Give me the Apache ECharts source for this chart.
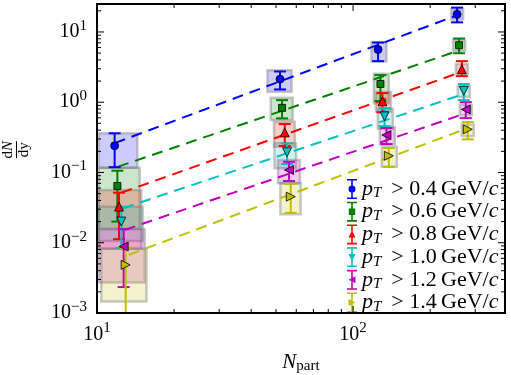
<!DOCTYPE html>
<html><head><meta charset="utf-8">
<script src="https://cdn.jsdelivr.net/npm/echarts@6/dist/echarts.min.js"></script>
<style>html,body{margin:0;padding:0;background:#fff}#c{width:511px;height:375px}</style>
</head><body><div id="c"></div>
<script>
// ---------- axis ranges & tick labels ----------
const xMin = 10, xMax = 392;
const yMin = 0.001, yMax = 25;
const xMajorTicks = [10, 100];
const yMajorTicks = [0.001, 0.01, 0.1, 1, 10];

// ---------- series ----------
const ptCuts = ['0.4', '0.6', '0.8', '1.0', '1.2', '1.4'];
const colors = ['#0000ff', '#008000', '#ff0000', '#00bfbf', '#bf00bf', '#bfbf00'];

// points: [Npart, dN/dy, lower end of error bar, upper end of error bar]
const pt04 = [[11.72, 0.240, 0.119, 0.361], [51.85, 2.13, 1.52, 2.74], [125.2, 5.62, 3.84, 7.07], [254.8, 17.8, 13.7, 22.2]];
const pt06 = [[12.01, 0.0643, 0.0200, 0.106], [52.8, 0.832, 0.589, 1.07], [127.9, 1.82, 1.04, 2.43], [259.4, 6.47, 4.98, 8.06]];
const pt08 = [[12.19, 0.0327, 0.01125, 0.0516], [54.1, 0.372, 0.238, 0.489], [130.2, 1.03, 0.72, 1.35], [265.9, 2.95, 2.35, 3.84]];
const pt10 = [[12.45, 0.0200, 0.00846, 0.0321], [55.2, 0.194, 0.132, 0.260], [132.7, 0.629, 0.457, 0.824], [270.6, 1.45, 1.07, 1.81]];
const pt12 = [[12.71, 0.00883, 0.00234, 0.0156], [56.2, 0.1085, 0.0757, 0.142], [135.0, 0.341, 0.254, 0.429], [275.5, 0.790, 0.594, 1.00]];
const pt14 = [[12.94, 0.00485, 0.0005, 0.00846], [57.1, 0.0453, 0.0266, 0.0687], [137.9, 0.173, 0.120, 0.223], [280.5, 0.411, 0.296, 0.521]];

// systematic boxes: [Npart low, Npart high, dN/dy low, dN/dy high]
const sys04 = [[10.15, 14.38, 0.117, 0.361], [46.3, 57.5, 1.41, 2.86], [118.0, 135.0, 3.8, 7.2], [241.5, 269.0, 15.0, 21.0]];
const sys06 = [[10.15, 14.68, 0.0157, 0.117], [47.7, 58.1, 0.557, 1.155], [120.5, 137.9, 0.97, 2.55], [245.8, 273.9, 5.4, 7.6]];
const sys08 = [[10.15, 14.9, 0.0082, 0.0564], [49.1, 59.2, 0.232, 0.527], [122.7, 140.4, 0.74, 1.40], [251.9, 280.5, 2.5, 3.5]];
const sys10 = [[10.1, 15.08, 0.0106, 0.0324], [49.3, 59.9, 0.1147, 0.261], [124.9, 142.9, 0.42, 0.81], [256.4, 285.6, 1.2, 1.7]];
const sys12 = [[10.15, 15.36, 0.00272, 0.0157], [50.9, 62.0, 0.0702, 0.1506], [127.2, 145.5, 0.25, 0.44], [261.1, 290.8, 0.65, 0.92]];
const sys14 = [[10.40, 15.6, 0.00146, 0.0082], [52.0, 62.4, 0.0255, 0.0702], [129.5, 148.2, 0.121, 0.233], [265.9, 296.1, 0.33, 0.48]];

// power-law fits: two end points [Npart, dN/dy]
const fit04 = [[11.72, 0.262], [255, 17.3]];
const fit06 = [[12.08, 0.121], [261, 5.50]];
const fit08 = [[12.45, 0.0516], [265, 2.70]];
const fit10 = [[12.64, 0.0310], [269, 1.30]];
const fit12 = [[12.83, 0.01524], [274, 0.693]];
const fit14 = [[13.3, 0.00673], [279, 0.425]];

const points = [pt04, pt06, pt08, pt10, pt12, pt14];
const boxes = [sys04, sys06, sys08, sys10, sys12, sys14];
const fits = [fit04, fit06, fit08, fit10, fit12, fit14];

const symbols = ['circle', 'rect', 'triangle', 'triangle', 'triangle', 'triangle'];
const symRot = [0, 0, 0, 180, 90, -90];
const symSize = [8, 7, 9, 9, 9, 9];

const BAR = 'M4.2 0H5.8V20H4.2Z M0 0H10V1.6H0Z M0 18.4H10V20H0Z ';
const legendIcons = [
  BAR + 'M1.5 10A3.5 3.5 0 1 1 8.5 10A3.5 3.5 0 1 1 1.5 10Z',
  BAR + 'M1.8 6.8H8.2V13.2H1.8Z',
  BAR + 'M5 6L8.5 13H1.5Z',
  BAR + 'M1.5 7H8.5L5 14Z',
  BAR + 'M1.5 10L8.5 6.5V13.5Z',
  BAR + 'M8.5 10L1.5 13.5V6.5Z'
].map(p => 'path://' + p);

const FONT = 'Liberation Serif';
const names = ptCuts.map(c => 'pT > ' + c);

function supLabel(v) {
  const e = Math.log10(v), r = Math.round(e);
  if (Math.abs(e - r) > 1e-6) return '';
  return '10{sup|' + String(r).replace('-', '\u2212') + '}';
}

const series = [];
points.forEach((pts, i) => {
  const col = colors[i];
  series.push({
    type: 'custom', name: 'box' + i, z: 1, clip: true,
    data: boxes[i],
    encode: { x: [0, 1], y: [2, 3] },
    renderItem: (params, api) => {
      const p1 = api.coord([api.value(0), api.value(3)]);
      const p2 = api.coord([api.value(1), api.value(2)]);
      return {
        type: 'rect',
        shape: { x: p1[0], y: p1[1], width: p2[0] - p1[0], height: p2[1] - p1[1] },
        style: { fill: echarts.color.modifyAlpha(col, 0.2), stroke: 'rgba(120,120,120,0.4)', lineWidth: 2.5 }
      };
    }
  });
  series.push({
    type: 'line', name: 'fit' + i, z: 2, data: fits[i], symbol: 'none', silent: true,
    lineStyle: { color: col, width: 2, type: [11, 7] }
  });
  series.push({
    type: 'custom', name: names[i], z: 3, clip: true,
    itemStyle: { color: col },
    data: pts,
    encode: { x: 0, y: [1, 2, 3] },
    renderItem: (params, api) => {
      const x = api.value(0);
      const a = api.coord([x, api.value(3)]);
      const b = api.coord([x, api.value(2)]);
      const cw = 6;
      const st = { stroke: col, lineWidth: 2 };
      return {
        type: 'group', children: [
          { type: 'line', shape: { x1: a[0], y1: a[1], x2: b[0], y2: b[1] }, style: st },
          { type: 'line', shape: { x1: a[0] - cw, y1: a[1], x2: a[0] + cw, y2: a[1] }, style: st },
          { type: 'line', shape: { x1: b[0] - cw, y1: b[1], x2: b[0] + cw, y2: b[1] }, style: st }
        ]
      };
    }
  });
  series.push({
    type: 'scatter', name: 'mk' + i, z: 4,
    data: pts.map(p => [p[0], p[1]]),
    symbol: symbols[i], symbolRotate: symRot[i], symbolSize: symSize[i],
    itemStyle: { color: col, borderColor: '#000', borderWidth: 0.8, opacity: 1 }
  });
});

// frame and ticks (inside, on all four sides)
const xMinor = [], yMinor = [];
for (let d = 1; d <= 100; d *= 10) for (let k = 2; k <= 9; k++) { const v = k * d; if (v > xMin && v < xMax) xMinor.push(v); }
for (let d = 0.001; d <= 10.0001; d *= 10) for (let k = 2; k <= 9; k++) { const v = k * d; if (v > yMin && v < yMax) yMinor.push(v); }
series.push({
  type: 'custom', name: 'frame', z: 10, silent: true, clip: false,
  data: [[xMin, yMin]],
  renderItem: (params, api) => {
    const cs = params.coordSys;
    const L = cs.x, T = cs.y, R = cs.x + cs.width, B = cs.y + cs.height;
    const ch = [];
    const tk = (x1, y1, x2, y2) => ch.push({ type: 'line', shape: { x1, y1, x2, y2 }, style: { stroke: '#000', lineWidth: 1 } });
    const MAJ = 7, MIN = 4;
    xMajorTicks.forEach(v => { const px = api.coord([v, yMin])[0]; tk(px, B, px, B - MAJ); tk(px, T, px, T + MAJ); });
    xMinor.forEach(v => { const px = api.coord([v, yMin])[0]; tk(px, B, px, B - MIN); tk(px, T, px, T + MIN); });
    yMajorTicks.forEach(v => { const py = api.coord([xMin, v])[1]; tk(L, py, L + MAJ, py); tk(R, py, R - MAJ, py); });
    yMinor.forEach(v => { const py = api.coord([xMin, v])[1]; tk(L, py, L + MIN, py); tk(R, py, R - MIN, py); });
    ch.push({ type: 'rect', shape: { x: L, y: T, width: cs.width, height: cs.height }, style: { fill: 'none', stroke: '#000', lineWidth: 2 } });
    return { type: 'group', children: ch };
  }
});

const chart = echarts.init(document.getElementById('c'), null, { renderer: 'canvas' });
chart.setOption({
  animation: false,
  backgroundColor: '#fff',
  textStyle: { fontFamily: FONT },
  grid: { left: 97, right: 6, top: 4, bottom: 62, containLabel: false, outerBoundsMode: 'none' },
  xAxis: {
    type: 'log', logBase: 10, min: xMin, max: xMax,
    axisLine: { show: false }, axisTick: { show: false }, splitLine: { show: false },
    axisLabel: {
      formatter: supLabel, fontFamily: FONT, fontSize: 20, color: '#000', margin: 8,
      rich: { sup: { fontFamily: FONT, fontSize: 15, color: '#000', padding: [0, 0, 12, 0] } }
    },
    name: '{i|N}{s|part}', nameLocation: 'middle', nameGap: 37,
    nameTextStyle: {
      rich: {
        i: { fontFamily: FONT, fontStyle: 'italic', fontSize: 21, color: '#000' },
        s: { fontFamily: FONT, fontSize: 15, color: '#000', padding: [9, 0, 0, 0] }
      }
    }
  },
  yAxis: {
    type: 'log', logBase: 10, min: yMin, max: yMax,
    axisLine: { show: false }, axisTick: { show: false }, splitLine: { show: false },
    axisLabel: {
      formatter: supLabel, fontFamily: FONT, fontSize: 20, color: '#000', margin: 10,
      rich: { sup: { fontFamily: FONT, fontSize: 15, color: '#000', padding: [0, 0, 12, 0] } }
    },
    name: '{n|d}{ni|N}\n{bar|}\n{n|dy}', nameLocation: 'middle', nameGap: 66, nameRotate: 90,
    nameTextStyle: {
      align: 'left',
      rich: {
        n: { fontFamily: FONT, fontSize: 15, color: '#000', lineHeight: 13, align: 'center' },
        ni: { fontFamily: FONT, fontStyle: 'italic', fontSize: 15, color: '#000', lineHeight: 13, align: 'center' },
        bar: { width: 17, height: 1, lineHeight: 3, backgroundColor: '#000', align: 'center' }
      }
    }
  },
  legend: {
    orient: 'vertical', left: 347, top: 177, padding: 0,
    itemWidth: 10, itemHeight: 20, itemGap: -1.3,
    data: names.map((n, i) => ({ name: n, icon: legendIcons[i] })),
    formatter: n => {
      const c = n.split('> ')[1];
      return '{i|p}{s|T}{t| \u2009> ' + c + '\u2009GeV/}{i|c}';
    },
    textStyle: {
      color: '#000',
      rich: {
        i: { fontFamily: FONT, fontStyle: 'italic', fontSize: 22, color: '#000', lineHeight: 20 },
        s: { fontFamily: FONT, fontStyle: 'italic', fontSize: 15, color: '#000', lineHeight: 14, padding: [9, 0, 0, 0] },
        t: { fontFamily: FONT, fontSize: 22, color: '#000', lineHeight: 20 }
      }
    }
  },
  series
});
</script>
</body></html>
